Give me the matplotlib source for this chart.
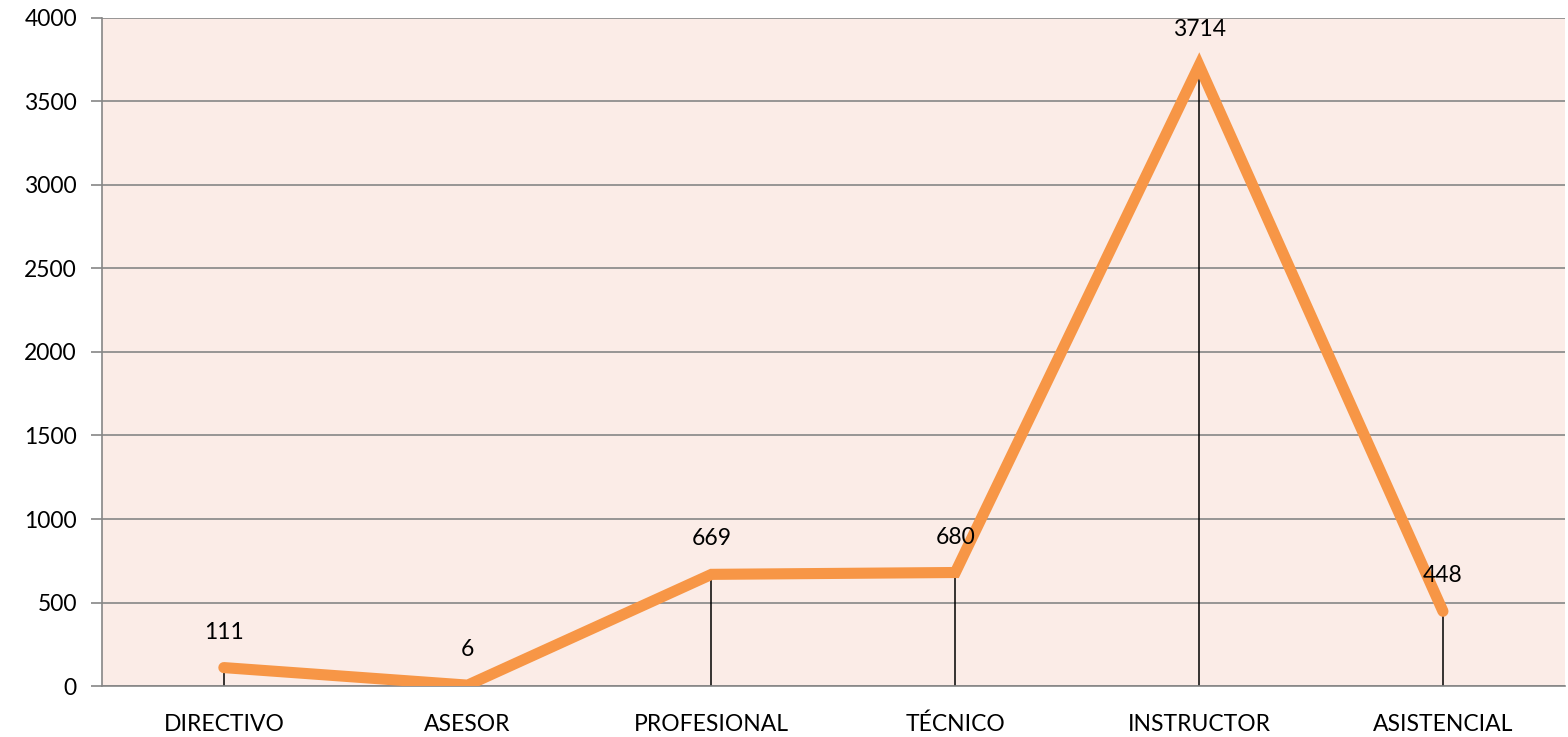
import matplotlib
matplotlib.use("Agg")
import matplotlib.pyplot as plt

categorias = ["DIRECTIVO", "ASESOR", "PROFESIONAL", "TÉCNICO", "INSTRUCTOR", "ASISTENCIAL"]
valores = [111, 6, 669, 680, 3714, 448]
yticks = [0, 500, 1000, 1500, 2000, 2500, 3000, 3500, 4000]

plt.rcParams['font.family'] = ['Lato', 'DejaVu Sans']

fig = plt.figure(figsize=(15.68, 7.37), dpi=100)
ax = fig.add_axes([0.065, 0.069, 0.933, 0.907])
ax.set_facecolor("#FBECE7")

x = list(range(len(categorias)))
ax.vlines(x, 0, valores, colors="black", linewidth=1.1, zorder=2)
ax.plot(x, valores, color="#F79646", linewidth=8, solid_capstyle="round",
        solid_joinstyle="miter", zorder=3)

for xi, v in zip(x, valores):
    ax.annotate(str(v), (xi, v), xytext=(0, 18), textcoords="offset points",
                ha="center", va="bottom", fontsize=16.5, color="black", zorder=4)

ax.set_xlim(-0.5, len(categorias) - 0.5)
ax.set_ylim(0, 4000)
ax.set_yticks(yticks)
ax.set_xticks(x)
ax.set_xticklabels(categorias, fontsize=16.5)
ax.tick_params(axis="y", labelsize=16.5, length=8, color="#868686", width=1.2, pad=10)
ax.tick_params(axis="x", length=0, pad=20)
ax.grid(axis="y", color="#868686", linewidth=1.2, zorder=1)
ax.set_axisbelow(True)

for s in ["top", "right"]:
    ax.spines[s].set_visible(False)
ax.spines["left"].set_color("#868686")
ax.spines["left"].set_linewidth(1.2)
ax.spines["bottom"].set_color("#868686")
ax.spines["bottom"].set_linewidth(1.2)

fig.savefig("out.png", dpi=100)
